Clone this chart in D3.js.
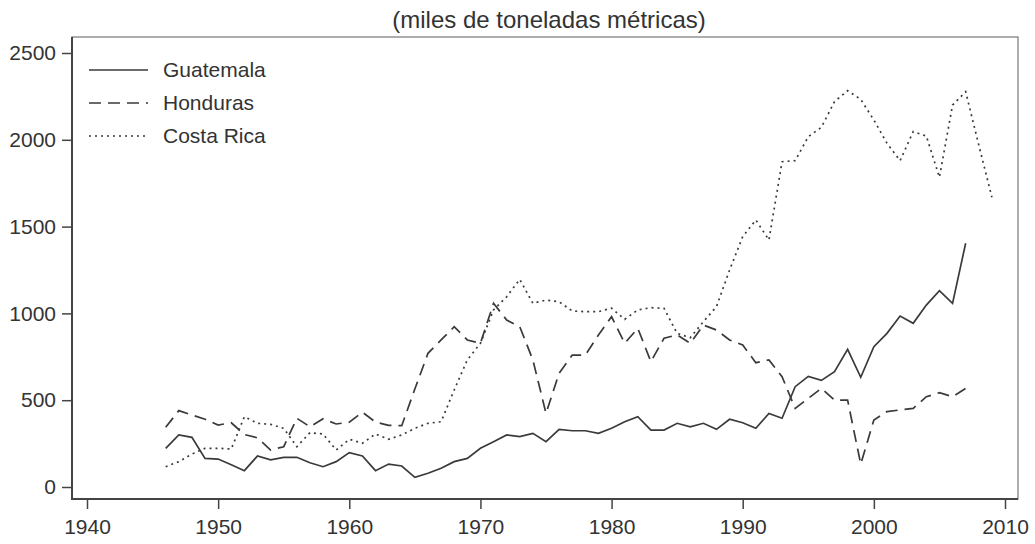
<!DOCTYPE html>
<html>
<head>
<meta charset="utf-8">
<script src="https://d3js.org/d3.v7.min.js"></script>
<style>
    body { margin: 0; background: white; }
    text { font-family: "Liberation Sans", Arial, sans-serif; fill: #333; }
</style>
</head>
<body>
<svg width="1035" height="544"></svg>
<script>
    //Data (miles de toneladas metricas)
    var guatYears = d3.range(1946, 2008);
    var guatValues = [223, 300, 286, 165, 161, 128, 94, 179, 156, 171,
                      171, 140, 117, 146, 198, 179, 94, 132, 121, 56,
                      79, 108, 146, 165, 223, 261, 300, 290, 309, 261,
                      332, 324, 324, 309, 338, 376, 405, 328, 328, 367,
                      347, 367, 332, 390, 370, 338, 424, 396, 578, 637,
                      614, 664, 793, 632, 808, 885, 985, 943, 1048, 1131,
                      1058, 1404];

    var hondYears = d3.range(1946, 2008);
    var hondValues = [344, 440, 415, 390, 357, 370, 302, 283, 213, 232,
                      396, 347, 393, 363, 373, 431, 374, 355, 353, 565,
                      770, 847, 923, 847, 828, 1058, 962, 923, 732, 424,
                      655, 760, 760, 876, 981, 828, 914, 722, 857, 876,
                      828, 933, 904, 847, 818, 716, 732, 635, 453, 511,
                      568, 501, 500, 132, 386, 434, 444, 453, 520, 543,
                      520, 568];

    var costaYears = d3.range(1946, 2010);
    var costaValues = [117, 146, 190, 223, 223, 219, 405, 367, 361, 338,
                       232, 313, 305, 213, 275, 252, 305, 275, 300, 338,
                       367, 376, 559, 732, 828, 1020, 1096, 1196, 1058, 1077,
                       1067, 1014, 1010, 1010, 1030, 966, 1020, 1033, 1029, 885,
                       860, 952, 1039, 1250, 1442, 1538, 1423, 1874, 1880, 2018,
                       2072, 2220, 2283, 2233, 2114, 1980, 1880, 2047, 2022, 1784,
                       2200, 2277, 1970, 1669];

    var seriesNames = ["Guatemala", "Honduras", "Costa Rica"];
    var xTicks = [1940, 1950, 1960, 1970, 1980, 1990, 2000, 2010];
    var yTicks = [0, 500, 1000, 1500, 2000, 2500];

    var svg = d3.select("svg");

    //Scales
    var xs = d3.scaleLinear().domain([1940, 2010]).range([87, 1005]);
    var ys = d3.scaleLinear().domain([0, 2500]).range([487, 53]);

    //Frame around the plot
    svg.append("rect")
       .attr("x", 72).attr("y", 37)
       .attr("width", 946).attr("height", 462)
       .style("fill", "none")
       .style("stroke", "#777")
       .style("stroke-width", 1.2);

    //Left and bottom axis lines are darker
    svg.append("line").attr("x1", 72).attr("x2", 72).attr("y1", 37).attr("y2", 500)
       .style("stroke", "#444").style("stroke-width", 2);
    svg.append("line").attr("x1", 71).attr("x2", 1018).attr("y1", 499).attr("y2", 499)
       .style("stroke", "#444").style("stroke-width", 2);

    //Y axis
    var yAxis = svg.append("g")
       .attr("transform", "translate(72,0)")
       .call(d3.axisLeft(ys).tickValues(yTicks).tickSize(10).tickPadding(6).tickFormat(d3.format("d")));
    yAxis.select(".domain").remove();
    yAxis.selectAll("line").style("stroke", "#444").style("stroke-width", 1.5);
    yAxis.selectAll("text").style("font-size", "21px").style("fill", "#333");

    //X axis
    var xAxis = svg.append("g")
       .attr("transform", "translate(0,499)")
       .call(d3.axisBottom(xs).tickValues(xTicks).tickSize(10).tickPadding(10).tickFormat(d3.format("d")));
    xAxis.select(".domain").remove();
    xAxis.selectAll("line").style("stroke", "#444").style("stroke-width", 1.5);
    xAxis.selectAll("text").style("font-size", "21px").style("fill", "#333");

    //Title
    svg.append("text")
       .attr("x", 549).attr("y", 28)
       .style("text-anchor", "middle")
       .style("font-size", "24px")
       .text("(miles de toneladas métricas)");

    //Lines
    var line = d3.line()
       .x(function(d) { return xs(d[0]); })
       .y(function(d) { return ys(d[1]); });

    var dashes = ["none", "12,7", "2,4"];
    var allData = [
        d3.zip(guatYears, guatValues),
        d3.zip(hondYears, hondValues),
        d3.zip(costaYears, costaValues)
    ];

    allData.forEach(function(data, i) {
        svg.append("path")
           .datum(data)
           .attr("d", line)
           .style("fill", "none")
           .style("stroke", "#3a3a3a")
           .style("stroke-width", 1.7)
           .style("stroke-dasharray", dashes[i]);
    });

    //Legend
    seriesNames.forEach(function(name, i) {
        var yy = 70 + i * 33;
        svg.append("line")
           .attr("x1", 89).attr("x2", 148)
           .attr("y1", yy).attr("y2", yy)
           .style("stroke", "#3a3a3a")
           .style("stroke-width", 1.7)
           .style("stroke-dasharray", dashes[i]);
        svg.append("text")
           .attr("x", 163).attr("y", yy + 7)
           .style("font-size", "21px")
           .text(name);
    });
</script>
</body>
</html>
